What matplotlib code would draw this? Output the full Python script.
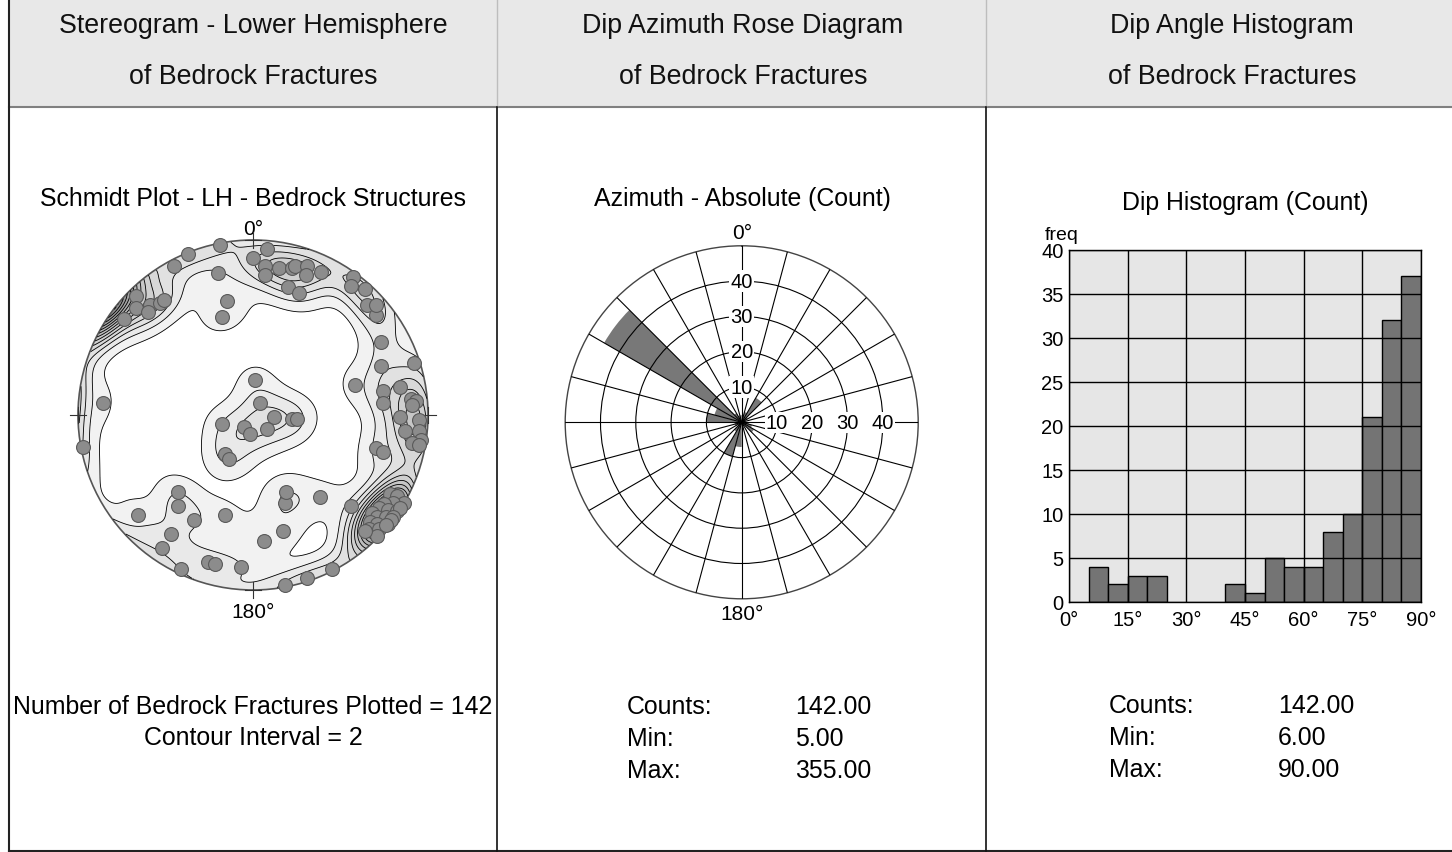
import numpy as np
import matplotlib
matplotlib.use('Agg')
import matplotlib.pyplot as plt
from matplotlib.patches import Circle, Rectangle
from matplotlib.colors import ListedColormap

plt.rcParams['font.family'] = ['Liberation Sans', 'DejaVu Sans']

# poles to fractures, equal-area (Schmidt) net coordinates, east / north, unit circle
pole_x = [-0.37, -0.19, 0.00, 0.08, 0.07, 0.07, 0.15, 0.22, 0.24, 0.31, 0.30, 0.39,
          0.20, 0.26, -0.20, -0.15, -0.18, -0.45,
          -0.67, -0.67, -0.74, -0.59, -0.53, -0.51, -0.60,
          0.57, 0.56, 0.64, 0.65, 0.70, 0.70, 0.73, 0.73, 0.92, 0.58,
          0.74, 0.74, 0.84, 0.90, 0.93, 0.91, 0.95, 0.84, 0.87, 0.95, 0.96, 0.91, 0.95,
          0.70, 0.74,
          0.78, 0.82, 0.86, 0.80, 0.75, 0.72, 0.77, 0.82, 0.84, 0.68, 0.71, 0.76, 0.80,
          0.67, 0.71, 0.77, 0.79, 0.66, 0.72, 0.76, 0.71, 0.64, 0.56,
          -0.86, -0.97,
          0.01, 0.04, 0.12, 0.22, 0.25, 0.08, -0.05, -0.02, -0.18, -0.16, -0.14,
          -0.43, -0.43, -0.66, -0.34, -0.16, 0.18, 0.19, 0.38, 0.17, 0.06, -0.47, -0.52,
          -0.41, -0.26, -0.22, -0.07, 0.31, 0.45, 0.18]
pole_y = [0.92, 0.97, 0.90, 0.95, 0.85, 0.80, 0.84, 0.84, 0.85, 0.85, 0.80, 0.82,
          0.73, 0.70, 0.81, 0.65, 0.56, 0.85,
          0.68, 0.61, 0.55, 0.63, 0.64, 0.66, 0.59,
          0.79, 0.74, 0.72, 0.63, 0.57, 0.63, 0.42, 0.28, 0.30, 0.17,
          0.14, 0.07, 0.16, 0.09, 0.08, 0.06, -0.03, -0.01, -0.09, -0.09, -0.14, -0.16, -0.17,
          -0.19, -0.21,
          -0.45, -0.46, -0.50, -0.50, -0.51, -0.53, -0.54, -0.55, -0.53, -0.56, -0.58, -0.58, -0.58,
          -0.61, -0.62, -0.62, -0.60, -0.65, -0.65, -0.63, -0.69, -0.66, -0.52,
          0.07, -0.18,
          0.20, 0.07, -0.01, -0.02, -0.02, -0.08, -0.07, -0.11, -0.05, -0.22, -0.25,
          -0.44, -0.52, -0.57, -0.60, -0.57, -0.50, -0.44, -0.47, -0.66, -0.72, -0.68, -0.76,
          -0.88, -0.84, -0.85, -0.87, -0.93, -0.88, -0.97]

# dip azimuth rose, 15 degree bins starting at north
rose_bin_start = [0, 15, 30, 45, 60, 75, 90, 105, 120, 135, 150, 165,
                  180, 195, 210, 225, 240, 255, 270, 285, 300, 315, 330, 345]
rose_counts = [2, 3, 8, 2, 0, 0, 2, 3, 4, 0, 0, 2,
               7, 10, 3, 0, 2, 2, 10, 8, 45, 3, 2, 2]

# dip angle histogram, 5 degree bins
dip_bin_start = [5, 10, 15, 20, 40, 45, 50, 55, 60, 65, 70, 75, 80, 85]
dip_counts = [4, 2, 3, 3, 2, 1, 5, 4, 4, 8, 10, 21, 32, 37]

W, H = 1452, 853
fig = plt.figure(figsize=(W / 100, H / 100), dpi=100)


def px_axes(x0, y0, x1, y1, **kw):
    return fig.add_axes([x0 / W, 1 - y1 / H, (x1 - x0) / W, (y1 - y0) / H], **kw)


# page frame, header band and column dividers
frame = fig.add_axes([0, 0, 1, 1])
frame.set_xlim(0, W)
frame.set_ylim(H, 0)
frame.axis('off')
frame.add_patch(Rectangle((9, 0), W - 9, 107, fc='#e8e8e8', ec='none'))
frame.plot([9, W], [107.5, 107.5], color='#808080', lw=1.5)
frame.plot([9, 9], [0, 852], color='#222222', lw=1.5)
frame.plot([9, W], [852, 852], color='#222222', lw=1.5)
for xd in (497, 986):
    frame.plot([xd, xd], [0, 107], color='#bdbdbd', lw=1)
    frame.plot([xd, xd], [108, 852], color='#111111', lw=1.2)

big = 19.3
mid = 17.9
small = 15
headers = [(253, 'Stereogram - Lower Hemisphere', 'of Bedrock Fractures'),
           (743, 'Dip Azimuth Rose Diagram', 'of Bedrock Fractures'),
           (1232, 'Dip Angle Histogram', 'of Bedrock Fractures')]
for xc, l1, l2 in headers:
    frame.text(xc, 26, l1, ha='center', va='center', fontsize=big, color='#111111')
    frame.text(xc, 77, l2, ha='center', va='center', fontsize=big, color='#111111')

frame.text(253, 199, 'Schmidt Plot - LH - Bedrock Structures', ha='center', va='center', fontsize=mid)
frame.text(742, 199, 'Azimuth - Absolute (Count)', ha='center', va='center', fontsize=mid)
frame.text(1245, 203, 'Dip Histogram (Count)', ha='center', va='center', fontsize=mid)

frame.text(253, 229, '0°', ha='center', va='center', fontsize=small)
frame.text(253, 612, '180°', ha='center', va='center', fontsize=small)
frame.text(742, 233, '0°', ha='center', va='center', fontsize=small)
frame.text(742, 614, '180°', ha='center', va='center', fontsize=small)

frame.text(253, 707, 'Number of Bedrock Fractures Plotted = %d' % 142, ha='center', va='center', fontsize=mid)
frame.text(253, 738, 'Contour Interval = 2', ha='center', va='center', fontsize=mid)

stats_rose = [('Counts:', '142.00'), ('Min:', '5.00'), ('Max:', '355.00')]
stats_dip = [('Counts:', '142.00'), ('Min:', '6.00'), ('Max:', '90.00')]
for i, (k, v) in enumerate(stats_rose):
    frame.text(627, 707 + 32 * i, k, ha='left', va='center', fontsize=mid)
    frame.text(795, 707 + 32 * i, v, ha='left', va='center', fontsize=mid)
for i, (k, v) in enumerate(stats_dip):
    frame.text(1109, 706 + 32 * i, k, ha='left', va='center', fontsize=mid)
    frame.text(1278, 706 + 32 * i, v, ha='left', va='center', fontsize=mid)

# ---- stereonet with pole density contours ----
ax1 = px_axes(78, 241, 428, 591)
ax1.set_xlim(-1, 1)
ax1.set_ylim(-1, 1)
ax1.axis('off')


def to_vec(x, y):
    r2 = x ** 2 + y ** 2
    s = np.sqrt(np.clip(2 - r2, 0, None))
    return x * s, y * s, 1 - r2


px_, py_, pz_ = to_vec(np.array(pole_x), np.array(pole_y))
g = np.linspace(-1, 1, 301)
GX, GY = np.meshgrid(g, g)
inside = GX ** 2 + GY ** 2 <= 1.0
gx, gy, gz = to_vec(GX, GY)
kappa = 50.0
# axial kernel: |cos| folds antipodal directions together across the rim
dots = np.abs(gx[..., None] * px_ + gy[..., None] * py_ + gz[..., None] * pz_)
dens = np.exp(kappa * (dots - 1)).sum(axis=-1)
dens[~inside] = np.nan

levels = np.arange(0.9, np.nanmax(dens) + 1.2, 1.2)
shades = np.linspace(0.95, 0.5, len(levels) - 1)
cmap = ListedColormap([(s, s, s) for s in shades])
rim = Circle((0, 0), 1, transform=ax1.transData, fill=False)
cf = ax1.contourf(GX, GY, dens, levels=levels, cmap=cmap, extend='neither')
cl = ax1.contour(GX, GY, dens, levels=levels, colors='black', linewidths=0.6)
cf.set_clip_path(rim)
cl.set_clip_path(rim)
ax1.add_patch(Circle((0, 0), 1, fill=False, ec='#555555', lw=1.2, clip_on=False))
arm = 0.045
for cx, cy in [(0, 1), (0, -1), (-1, 0), (1, 0)]:
    ax1.plot([cx - arm, cx + arm], [cy, cy], color='#333333', lw=0.8, clip_on=False)
    ax1.plot([cx, cx], [cy - arm, cy + arm], color='#333333', lw=0.8, clip_on=False)
ax1.scatter(pole_x, pole_y, s=100, c='#8c8c8c', edgecolors='#5a5a5a', linewidths=0.8,
            zorder=5, clip_on=False)

# ---- rose diagram ----
rcx, rcy, rr = 741.7, 423.3, 176.5
ax2 = px_axes(rcx - rr, rcy - rr, rcx + rr, rcy + rr, projection='polar')
ax2.set_theta_zero_location('N')
ax2.set_theta_direction(-1)
ax2.bar(np.radians(np.array(rose_bin_start) + 7.5), rose_counts, width=np.radians(15),
        color='#787878', edgecolor='none', zorder=1)
ax2.set_ylim(0, 50)
ax2.set_rticks([10, 20, 30, 40])
ax2.set_yticklabels([])
ax2.set_xticks(np.radians(np.arange(0, 360, 15)))
ax2.set_xticklabels([])
ax2.set_axisbelow(False)
ax2.grid(True, color='black', lw=0.8)
ax2.spines['polar'].set_color('#444444')
ax2.spines['polar'].set_linewidth(1.0)
# blank the east spoke where the radial scale is written along it
ax2.plot([np.pi / 2, np.pi / 2], [7.5, 43.5], color='white', lw=4, zorder=5,
         solid_capstyle='butt')
for r in (10, 20, 30, 40):
    for th in (0, 90):
        ax2.text(np.radians(th), r, str(r), ha='center', va='center', fontsize=14.5,
                 zorder=6, bbox=dict(fc='white', ec='none', pad=0.8))

# ---- dip histogram ----
ax3 = px_axes(1069, 251, 1421, 603)
ax3.set_facecolor('#e6e6e6')
ax3.bar(dip_bin_start, dip_counts, width=5, align='edge', color='#747474',
        edgecolor='black', lw=1, zorder=1)
ax3.set_xlim(0, 90)
ax3.set_ylim(0, 40)
ax3.set_xticks(np.arange(0, 91, 15))
ax3.set_xticklabels(['%d°' % v for v in range(0, 91, 15)])
ax3.set_yticks(np.arange(0, 41, 5))
ax3.set_axisbelow(False)
ax3.grid(True, color='black', lw=1)
ax3.tick_params(axis='y', length=0, labelsize=14.5, pad=4)
ax3.tick_params(axis='x', length=0, labelsize=14.5, pad=6)
for sp in ax3.spines.values():
    sp.set_color('black')
    sp.set_linewidth(1)
frame.text(1062, 235, 'freq', ha='center', va='center', fontsize=14)

fig.savefig('out.png', dpi=100)
